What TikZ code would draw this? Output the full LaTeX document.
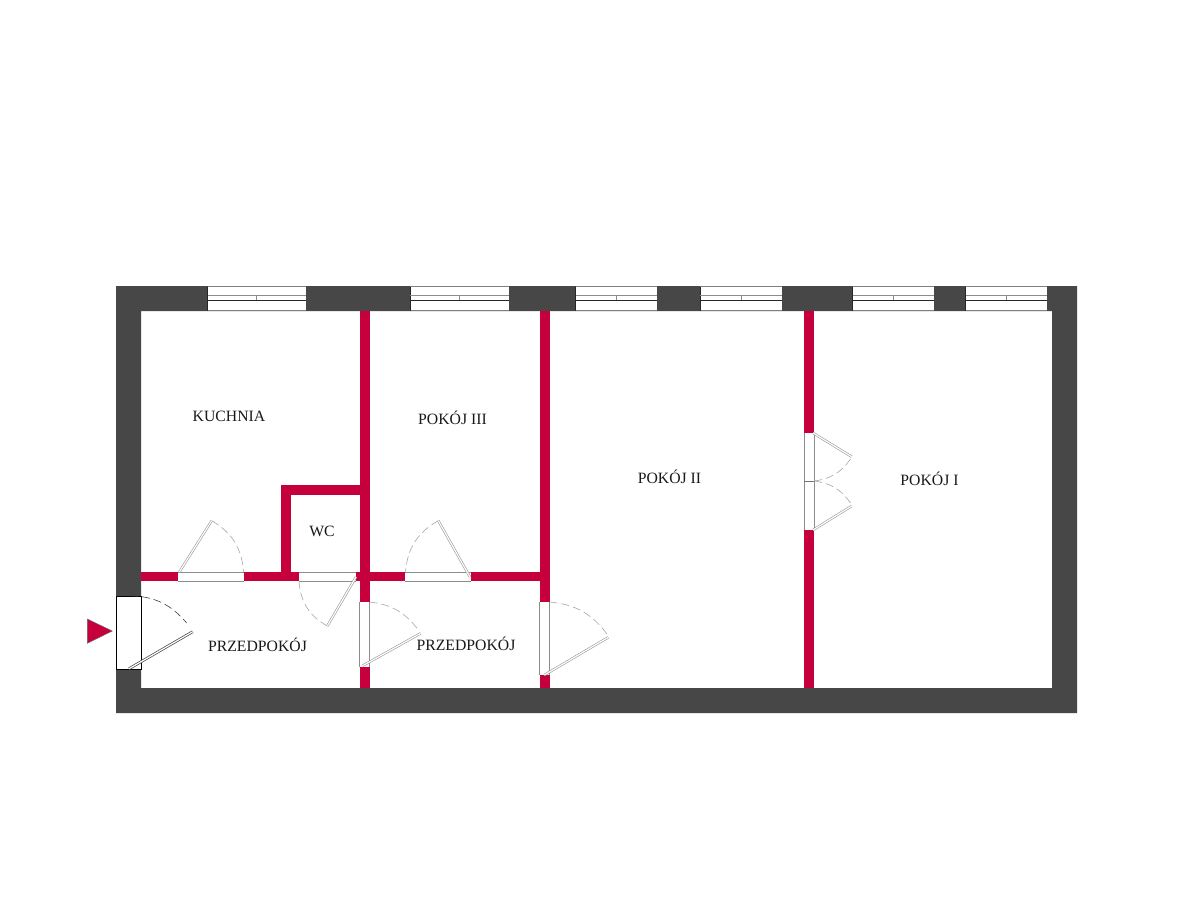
\documentclass[tikz,border=0pt]{standalone}
\usepackage{fontspec}
\setmainfont{Liberation Serif}
\definecolor{wallgrey}{HTML}{474747}
\definecolor{wallred}{HTML}{C6003D}
\tikzset{
  outerwall/.style={fill=wallgrey,draw=none},
  redwall/.style={fill=wallred,draw=none},
  openfill/.style={fill=white,draw=none},
  sill/.style={draw=black!45,line width=0.5pt},
  frontsill/.style={fill=white,draw=black,line width=0.6pt},
  leaf/.style={draw=black!40,double=white,double distance=0.9pt,line width=0.45pt},
  frontleaf/.style={draw=black!70,double=white,double distance=0.9pt,line width=0.55pt},
  swing/.style={draw=black!35,line width=0.45pt,dash pattern=on 6pt off 3pt},
  frontswing/.style={draw=black!75,line width=0.45pt,dash pattern=on 6pt off 3pt},
  roomlabel/.style={font=\fontsize{11.8pt}{13pt}\selectfont,text=black!90,inner sep=0pt},
  winframe/.style={fill=white,draw=none},
  winedge/.style={draw=black!50,line width=0.6pt},
  winline/.style={draw=black!85,line width=0.6pt},
  winpane/.style={draw=black!45,line width=0.5pt}
}
\newcommand{\winat}[2]{%
  \path[winframe] (#1,286.5) rectangle (#2,311);
  \draw[winedge] (#1,286.5) -- (#2,286.5) (#1,310.6) -- (#2,310.6);
  \draw[black!85,line width=0.7pt] (#1,286.5) -- (#1,311);
  \draw[winpane] (#1,295.8) -- (#2,295.8);
  \draw[winline] (#1,300.4) -- (#2,300.4);
  \draw[winpane] ({(#1+#2)/2},295.8) -- ({(#1+#2)/2},300.4);
}
\newcommand{\hopening}[2]{%
  \path[openfill] (#1,571.7) rectangle (#2,581.3);
  \draw[sill] (#1,571.9) -- (#2,571.9) (#1,581.1) -- (#2,581.1);
}
\newcommand{\vopening}[4]{%
  \path[openfill] (#1,#3) rectangle (#2,#4);
  \draw[sill] (#1,#3) -- (#1,#4) (#2,#3) -- (#2,#4);
}
\begin{document}
\begin{tikzpicture}[x=0.75pt,y=-0.75pt]
\useasboundingbox (0,0) rectangle (1200,900);
\fill[white] (0,0) rectangle (1200,900);
% outer walls
\path[outerwall,even odd rule] (116,286) rectangle (1077,713) (141,311) rectangle (1052,688);
% windows
\winat{207.5}{306}
\winat{410}{509}
\winat{575.7}{657}
\winat{700}{782}
\winat{852.7}{933.7}
\winat{965.7}{1047}
% red partitions
\path[redwall] (359.5,311) rectangle (369.5,688);
\path[redwall] (539.5,311) rectangle (549.5,688);
\path[redwall] (804,311) rectangle (814,688);
\path[redwall] (141,571.7) rectangle (539.5,581.3);
\path[redwall] (280.7,484.7) rectangle (291.3,572);
\path[redwall] (280.7,484.7) rectangle (360,495);
% door openings
\hopening{178.3}{243.7}
\hopening{298.7}{356}
\hopening{405}{470.7}
\vopening{359.5}{369.5}{602}{667}
\vopening{539.5}{549.5}{601.7}{675}
\vopening{804}{814}{432.7}{530}
\draw[black!55,line width=0.5pt] (804,481) -- (814,481);
\path[frontsill] (116.5,596) rectangle (141,669.3);
% door leaves and swings
\coordinate (kh) at (179.3,572); \coordinate (ke) at (211.7,520.7); \coordinate (ka) at (243.5,572);
\draw[leaf] (kh) -- (ke);
\draw[swing] (ke) to[bend left=28] (ka);
\coordinate (wh) at (356,577); \coordinate (we) at (327.3,626); \coordinate (wa) at (299,582);
\draw[leaf] (wh) -- (we);
\draw[swing] (we) to[bend left=28] (wa);
\coordinate (th) at (470,577); \coordinate (te) at (438.3,520.7); \coordinate (ta) at (405.5,572);
\draw[leaf] (th) -- (te);
\draw[swing] (te) to[bend right=28] (ta);
\coordinate (lh) at (362.7,665.7); \coordinate (le) at (420.7,633.3); \coordinate (la) at (369.5,602);
\draw[leaf] (lh) -- (le);
\draw[swing] (la) to[bend left=24] (419,631);
\coordinate (ph) at (544.3,675); \coordinate (pe) at (608.3,637.3); \coordinate (pa) at (549.5,602);
\draw[leaf] (ph) -- (pe);
\draw[swing] (pa) to[bend left=24] (607,634);
\coordinate (d1h) at (813,433); \coordinate (d1e) at (851.7,456.7); \coordinate (dm) at (814,481);
\coordinate (d2h) at (813,530); \coordinate (d2e) at (851.7,506);
\draw[leaf] (d1h) -- (d1e);
\draw[swing] (850.5,459) to[bend left=24] (dm);
\draw[leaf] (d2h) -- (d2e);
\draw[swing] (dm) to[bend left=24] (850.5,503);
\coordinate (eh) at (129,668.7); \coordinate (ee) at (192.7,631.7); \coordinate (ea) at (130,595.7);
\draw[frontleaf] (eh) -- (ee);
\draw[frontswing] (ea) to[bend left=24] (186.7,623);
% entrance marker
\path[fill=wallred,draw=black!60,line width=0.3pt] (87.3,619) -- (112.3,631) -- (87.3,643.3) -- cycle;
% labels
\node[roomlabel] (kuchnia) at (229,416.5) {KUCHNIA};
\node[roomlabel] (pokoj3) at (452.5,418) {POKÓJ III};
\node[roomlabel] (pokoj2) at (669.5,477) {POKÓJ II};
\node[roomlabel] (pokoj1) at (929.5,479) {POKÓJ I};
\node[roomlabel] (wc) at (322,531) {WC};
\node[roomlabel] (przed1) at (257.5,645) {PRZEDPOKÓJ};
\node[roomlabel] (przed2) at (466,643.5) {PRZEDPOKÓJ};
\end{tikzpicture}
\end{document}
